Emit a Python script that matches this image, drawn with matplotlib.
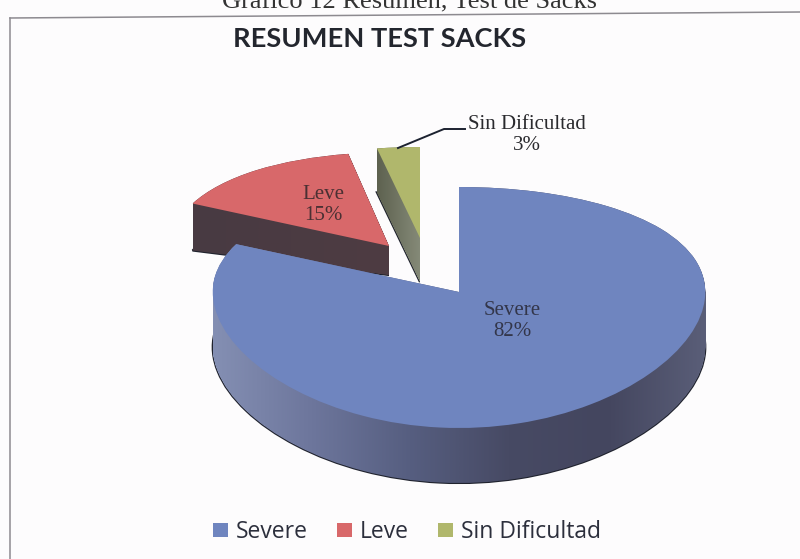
import numpy as np
import matplotlib
matplotlib.use('Agg')
import matplotlib.pyplot as plt
from matplotlib.colors import LinearSegmentedColormap
from matplotlib.image import BboxImage
from matplotlib.lines import Line2D
from matplotlib.patches import PathPatch, Rectangle
from matplotlib.path import Path
from matplotlib.transforms import Affine2D, Bbox, IdentityTransform

names = ['Severe', 'Leve', 'Sin Dificultad']
values = [82, 15, 3]
top_colors = ['#6f85bf', '#d8686a', '#b0b76c']
side_colors = [['#848fb3', '#6d769c', '#565e80', '#474a64', '#44465f', '#5a5e78'],
               ['#483a42', '#4e3c42'],
               ['#5d614f', '#868b79']]

W, H = 800, 559
# perspective of the tilted pie: y above the centre is squeezed, below is stretched
A, B = 118.5, 0.1286


def forward(y):
    return y / (1 + B * y)


def inverse(u):
    return u / (1 - B * u)


def fx(x):
    return x / W


def fy(y):
    return 1 - y / H


fig = plt.figure(figsize=(W / 100, H / 100), dpi=100, facecolor='#fdfcfd')
ax = fig.add_axes([0, 0, 1, 1])

wedges, _ = ax.pie(values, colors=top_colors, startangle=90, counterclock=False,
                   wedgeprops={'linewidth': 0})
ax.set_aspect('auto')
ax.set_yscale('function', functions=(forward, inverse))
ax.set_xlim((0 - 458) / 250, (W - 458) / 250)
ax.set_ylim(inverse((292 - H) / A), inverse(292 / A))
ax.axis('off')

# apex in pixels, radius, x squeeze, depth at left and right end, x range of the side,
# lowest image y where the rim line may start
layout = [
    (459, 292, 1.0, 0.985, 55, 55, 214, 707, 295),
    (389, 246, 0.98, 0.886, 47, 29, 192, 389, 0),
    (420, 238, 0.968, 0.95, 44, 44, 376, 420, 0),
]
zorders = [5, 2, 3]

for w, col, lay, z in zip(wedges, side_colors, layout, zorders):
    px, py, r, sx, d0, d1, x0, x1, rim_top = lay
    cy = inverse((292 - py) / A)
    cx = (px - 458) / 250
    w.set_radius(r)
    w.set_transform(Affine2D().scale(sx, 1).translate(cx, cy) + ax.transData)
    w.set_zorder(z)

    # side wall: the face swept downward, filled with a gradient
    face = w.get_transform().transform_path(w.get_path())
    parts = []
    for t in np.linspace(0, 1, 60):
        v = face.vertices.copy()
        k = np.clip((v[:, 0] - x0) / (x1 - x0), 0, 1)
        v[:, 1] -= t * (d0 + (d1 - d0) * k)
        parts.append(Path(v, face.codes))
    wall = Path.make_compound_path(*parts)
    ext = wall.get_extents()
    cmap = LinearSegmentedColormap.from_list('side', col)
    im = BboxImage(Bbox([[ext.x0, ext.y0], [ext.x1, ext.y1]]), cmap=cmap,
                   zorder=z - 0.4, interpolation='bilinear')
    im.set_data(np.linspace(0, 1, 256).reshape(1, -1))
    ax.add_artist(im)
    im.set_clip_path(wall, IdentityTransform())
    # dark line along the lower rim, the wall hides all of it but the outer edge
    rim = PathPatch(parts[-1], fc='none', ec='#20232e', lw=1.6,
                    transform=IdentityTransform(), zorder=z - 0.6)
    ax.add_artist(rim)
    rim.set_clip_path(Rectangle((0, 0), x1, H - rim_top, transform=IdentityTransform()))

# slice labels
serif = 'Liberation Serif'
ax.text(fx(512), fy(321), 'Severe\n82%', transform=fig.transFigure, family=serif, fontsize=15,
        color='#33364a', ha='center', va='center', zorder=8, linespacing=1.2)
ax.text(fx(323), fy(205), 'Leve\n15%', transform=fig.transFigure, family=serif, fontsize=15,
        color='#4a3033', ha='center', va='center', zorder=8, linespacing=1.2)
ax.text(fx(527), fy(135), 'Sin Dificultad\n3%', transform=fig.transFigure, family=serif,
        fontsize=15, color='#2a2a2e', ha='center', va='center', zorder=8, linespacing=1.2)
fig.add_artist(Line2D([fx(398), fx(444), fx(465)], [fy(148), fy(129), fy(129)],
                      color='#1c2230', lw=1.4))

# titles
fig.text(fx(409), fy(8), 'Gráfico 12 Resumen, Test de Sacks', family=serif, fontsize=19,
         color='#333333', ha='center', va='baseline')
fig.text(fx(380), fy(39), 'RESUMEN TEST SACKS', family='Lato', fontweight='bold', fontsize=19.6,
         color='#23262e', ha='center', va='center')

# frame of the scanned chart
fig.add_artist(Line2D([fx(10), fx(800)], [fy(18), fy(12)], color='#8d8a90', lw=1.1))
fig.add_artist(Line2D([fx(10), fx(10)], [fy(18), fy(559)], color='#8d8a90', lw=1.1))

ax.legend(wedges, names, ncol=3, frameon=False, loc='center', bbox_to_anchor=(fx(407), fy(532)),
          bbox_transform=fig.transFigure, prop={'family': 'Open Sans', 'size': 16.5},
          labelcolor='#2c2f3c', handlelength=0.62, handleheight=0.62, handletextpad=0.35,
          columnspacing=1.3)

fig.savefig('out.png', dpi=100, facecolor=fig.get_facecolor())
